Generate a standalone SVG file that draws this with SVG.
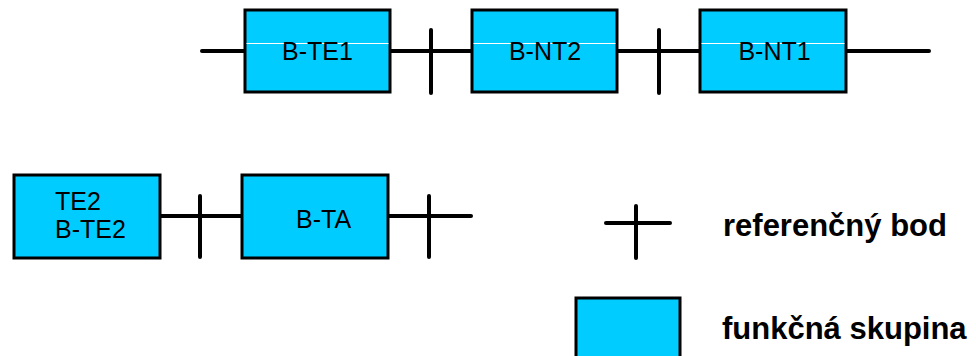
<svg xmlns="http://www.w3.org/2000/svg" width="976" height="356" viewBox="0 0 976 356">
<style>
.box{fill:#00ccff;stroke:#000;stroke-width:3}
.ln{stroke:#000;stroke-width:4;stroke-linecap:round;fill:none}
.sh{stroke:#fff;stroke-width:1}
.t{font-family:"Liberation Sans",Arial,sans-serif;font-size:25px;fill:#000}
.lg{font-family:"Liberation Sans",Arial,sans-serif;font-size:31px;font-weight:bold;fill:#000}
</style>
<rect width="976" height="356" fill="#fff"/>
<g id="connectors">
<line class="ln" x1="202" y1="51" x2="245" y2="51"/>
<line class="ln" x1="390" y1="51" x2="472" y2="51"/>
<line class="ln" x1="431" y1="30" x2="431" y2="93"/>
<line class="ln" x1="617" y1="51" x2="700" y2="51"/>
<line class="ln" x1="659" y1="30" x2="659" y2="93"/>
<line class="ln" x1="846" y1="51" x2="929" y2="51"/>
<line class="ln" x1="160" y1="216" x2="242" y2="216"/>
<line class="ln" x1="200" y1="196" x2="200" y2="257"/>
<line class="ln" x1="388" y1="216" x2="471" y2="216"/>
<line class="ln" x1="429" y1="196" x2="429" y2="257"/>
</g>
<g id="b-te1">
<rect class="box" x="245" y="10" width="145" height="82"/>
<line class="sh" x1="246.5" y1="43.5" x2="388.5" y2="43.5"/>
<text class="t" x="317.5" y="60" text-anchor="middle">B-TE1</text>
</g>
<g id="b-nt2">
<rect class="box" x="472" y="10" width="145" height="82"/>
<line class="sh" x1="473.5" y1="43.5" x2="615.5" y2="43.5"/>
<text class="t" x="545" y="60" text-anchor="middle">B-NT2</text>
</g>
<g id="b-nt1">
<rect class="box" x="700" y="10" width="146" height="82"/>
<line class="sh" x1="701.5" y1="43.5" x2="844.5" y2="43.5"/>
<text class="t" x="774.5" y="60" text-anchor="middle">B-NT1</text>
</g>
<g id="te2">
<rect class="box" x="14" y="175" width="146" height="83"/>
<text class="t" x="55" y="210">TE2</text>
<text class="t" x="55" y="238">B-TE2</text>
</g>
<g id="b-ta">
<rect class="box" x="242" y="175" width="146" height="83"/>
<text class="t" x="296" y="228">B-TA</text>
</g>
<g id="legend">
<line class="ln" x1="606" y1="223" x2="670" y2="223"/>
<line class="ln" x1="636" y1="206" x2="636" y2="258"/>
<text class="lg" x="723" y="236">referenčný bod</text>
<rect class="box" x="576" y="298" width="104" height="70"/>
<text class="lg" x="722" y="339">funkčná skupina</text>
</g>
</svg>
